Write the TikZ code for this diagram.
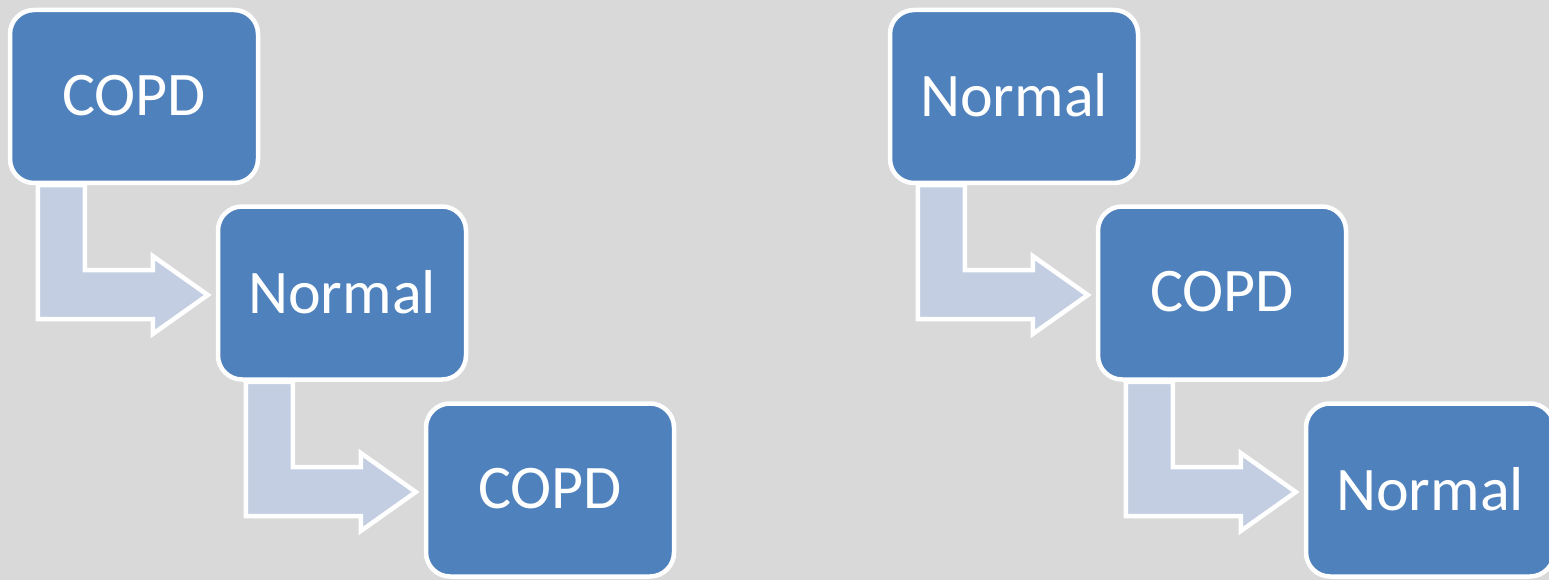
\documentclass[tikz,border=0pt]{standalone}
\usepackage{fontspec}
\setmainfont{Carlito}
\usetikzlibrary{calc,backgrounds}
\definecolor{bg}{HTML}{D9D9D9}
\definecolor{boxblue}{HTML}{4F81BD}
\definecolor{arrfill}{HTML}{C3CEE2}
\newcommand\mybentarrow[2]{%
  \draw[bentarrow] let \p1=(#1.south west), \p2=(#2.west) in
    (\x1+30pt,\y1) -- (\x1+30pt,\y2-26pt) -- (\x2-63pt,\y2-26pt) --
    (\x2-63pt,\y2-41pt) -- (\x2-8pt,\y2-2pt) -- (\x2-63pt,\y2+37pt) --
    (\x2-63pt,\y2+23pt) -- (\x1+77pt,\y2+23pt) -- (\x1+77pt,\y1) -- cycle;}
\begin{document}
\begin{tikzpicture}[x=1pt,y=-1pt,
  stepbox/.style={draw=white, line width=4.5pt, fill=boxblue, rounded corners=24pt,
    minimum width=248pt, minimum height=173pt, inner sep=0pt, text=white,
    font=\fontsize{62}{62}\selectfont},
  bentarrow/.style={draw=white, line width=4.5pt, fill=arrfill, line join=miter}]
\useasboundingbox (0,0) rectangle (1549,580);
\node[stepbox] (b1) at (134,96.5) {\raisebox{2.5pt}{COPD}};
\node[stepbox] (b2) at (342,293) {\raisebox{2.5pt}{Normal}};
\node[stepbox] (b3) at (550,490) {\raisebox{2.5pt}{COPD}};
\node[stepbox] (b4) at (1014,96.5) {\raisebox{2.5pt}{Normal}};
\node[stepbox] (b5) at (1222,293) {\raisebox{2.5pt}{COPD}};
\node[stepbox] (b6) at (1430,490) {\raisebox{2.5pt}{Normal}};
\begin{scope}[on background layer]
  \fill[bg] (0,0) rectangle (1549,580);
  \mybentarrow{b1}{b2}
  \mybentarrow{b2}{b3}
  \mybentarrow{b4}{b5}
  \mybentarrow{b5}{b6}
\end{scope}
\end{tikzpicture}
\end{document}
